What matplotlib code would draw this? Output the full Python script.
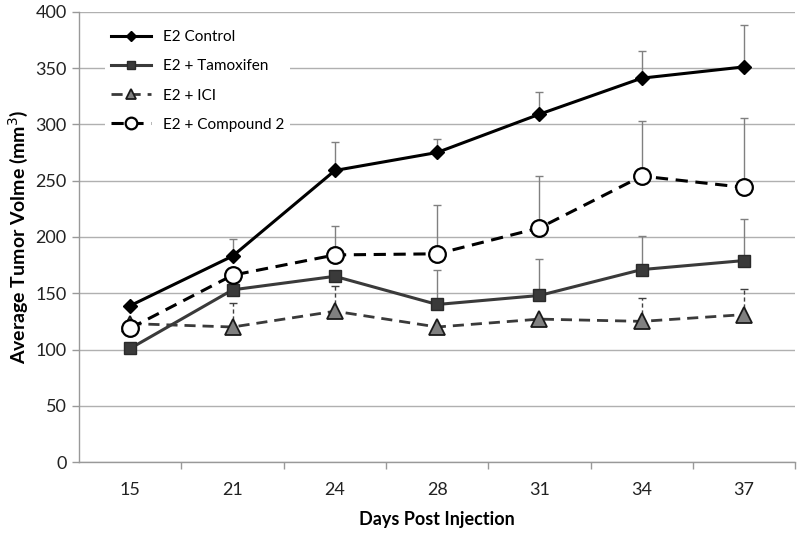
import numpy as np
import matplotlib.pyplot as plt

days = ['15', '21', '24', '28', '31', '34', '37']

control = [139, 183, 259, 275, 309, 341, 351]
control_top = [139, 198, 284, 287, 329, 365, 388]

tamoxifen = [101, 153, 165, 140, 148, 171, 179]
tamoxifen_top = [101, 153, 165, 171, 180, 201, 216]

ici = [123, 120, 134, 120, 127, 125, 131]
ici_top = [123, 141, 156, 120, 127, 146, 154]

compound2 = [119, 166, 184, 185, 208, 254, 244]
compound2_top = [119, 166, 210, 228, 254, 303, 306]

plt.rcParams['font.family'] = ['Lato', 'DejaVu Sans']

fig = plt.figure(figsize=(8, 5.33), dpi=100)
ax = fig.add_axes([0.099, 0.133, 0.895, 0.845])
x = np.arange(len(days))

def upper_err(vals, tops):
    vals = np.array(vals, float)
    return [np.zeros_like(vals), np.array(tops, float) - vals]

ecol = '#808080'
ax.errorbar(x, control, yerr=upper_err(control, control_top), fmt='none',
            ecolor=ecol, elinewidth=1, capsize=3, capthick=1, zorder=2)
ax.errorbar(x, compound2, yerr=upper_err(compound2, compound2_top), fmt='none',
            ecolor=ecol, elinewidth=1, capsize=3, capthick=1, zorder=2)
ax.errorbar(x, tamoxifen, yerr=upper_err(tamoxifen, tamoxifen_top), fmt='none',
            ecolor=ecol, elinewidth=1, capsize=3, capthick=1, zorder=2)
eb = ax.errorbar(x, ici, yerr=upper_err(ici, ici_top), fmt='none',
                 ecolor='#404040', elinewidth=1, capsize=3, capthick=1, zorder=2)
eb[2][0].set_linestyle((0, (3, 2)))

ax.plot(x, control, color='black', lw=2.2, marker='D', ms=7,
        mfc='black', mec='black', label='E2 Control', zorder=5)
ax.plot(x, tamoxifen, color='#3a3a3a', lw=2.2, marker='s', ms=9,
        mfc='#3a3a3a', mec='#2a2a2a', label='E2 + Tamoxifen', zorder=4)
ax.plot(x, ici, color='#3a3a3a', lw=2, ls=(0, (4, 2.5)), marker='^', ms=11,
        mfc='#808080', mec='#1a1a1a', mew=1.3, label='E2 + ICI', zorder=4)
ax.plot(x, compound2, color='black', lw=2.2, ls=(0, (4, 2.5)), marker='o', ms=12,
        mfc='white', mec='black', mew=1.6, label='E2 + Compound 2', zorder=5)

ax.set_xlim(-0.5, len(days) - 0.5)
ax.set_ylim(0, 400)
ax.set_yticks(np.arange(0, 401, 50))
ax.set_xticks(x)
ax.set_xticklabels(days)
ax.set_xticks(np.arange(0.5, len(days) - 0.4, 1), minor=True)
ax.tick_params(axis='x', which='major', length=0, pad=14, labelsize=13, colors='#222222')
ax.tick_params(axis='x', which='minor', length=5, color='#999999', width=1, direction='out')
ax.tick_params(axis='y', length=5, color='#999999', width=1, labelsize=13,
               colors='#222222', pad=4)

ax.grid(axis='y', color='#b0b0b0', lw=1)
ax.set_axisbelow(True)
for s in ['top', 'right']:
    ax.spines[s].set_visible(False)
for s in ['left', 'bottom']:
    ax.spines[s].set_color('#999999')
    ax.spines[s].set_linewidth(1)

ax.set_xlabel('Days Post Injection', fontsize=13, fontweight='bold', labelpad=10)
ax.set_ylabel('Average Tumor Volme (mm$^3$)', fontsize=14, fontweight='bold', labelpad=4)

leg = ax.legend(loc='upper left', bbox_to_anchor=(0.025, 0.99), frameon=True,
                facecolor='white', edgecolor='none', framealpha=1,
                fontsize=11, handlelength=2.6, labelspacing=1.0, markerscale=0.7)

fig.savefig('out.png', dpi=100)
